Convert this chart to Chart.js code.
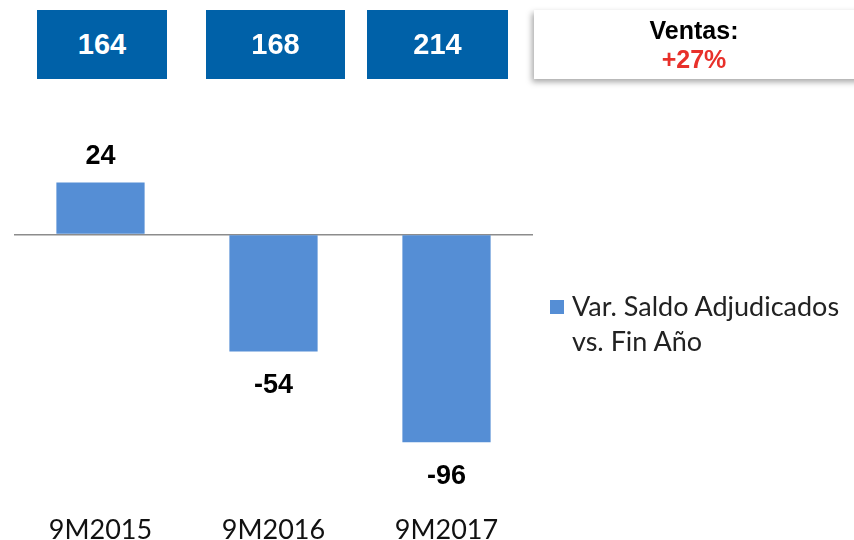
<!DOCTYPE html>
<html>
<head>
<meta charset="utf-8">
<script src="https://cdn.jsdelivr.net/npm/chart.js@4"></script>
<style>
  html, body { margin: 0; padding: 0; background: #fff; }
  #wrap { position: relative; width: 854px; height: 540px; overflow: hidden; font-family: "Liberation Sans", Arial, sans-serif; }
  canvas { position: absolute; left: 0; top: 0; }
  .box { position: absolute; top: 10px; height: 69px; background: #0061a8; color: #fff;
         font-weight: bold; font-size: 29px; display: flex; align-items: center; justify-content: center; }
  .ventas { position: absolute; left: 534px; top: 10px; width: 330px; height: 69px; background: #fff;
            box-shadow: -2px 3px 6px rgba(0,0,0,0.35); text-align: center; font-weight: bold; font-size: 25px; line-height: 29px; padding-top: 6px; padding-right: 10px; box-sizing: border-box; }
  .ventas .pct { color: #e8302a; }
  #legend { position: absolute; left: 550px; top: 288px; font-family: Lato, "Noto Sans", sans-serif; font-size: 27px; color: #222; line-height: 35px; }
  #legend .sw { display: inline-block; width: 14px; height: 14px; background: #558ed5; margin-right: 8px; vertical-align: 2px; }
  #legend .l2 { padding-left: 22px; }
</style>
</head>
<body>
<div id="wrap">
  <canvas id="chart" width="854" height="587"></canvas>
  <div id="boxes"></div>
  <div class="ventas"><div id="ventasLabel"></div><div class="pct" id="ventasPct"></div></div>
  <div id="legend"></div>
</div>
<script>
// datos
const categorias = ['9M2015', '9M2016', '9M2017'];
const variacion = [24, -54, -96];
const totales = [164, 168, 214];
const ventasTexto = 'Ventas:';
const ventasCrecimiento = '+27%';
const serieNombre = ['Var. Saldo Adjudicados', 'vs. Fin Año'];

// cajas superiores
const boxPos = [[37, 130], [206, 139], [367, 141]];
const boxesEl = document.getElementById('boxes');
totales.forEach(function(t, i) {
    const d = document.createElement('div');
    d.className = 'box';
    d.style.left = boxPos[i][0] + 'px';
    d.style.width = boxPos[i][1] + 'px';
    d.textContent = t;
    boxesEl.appendChild(d);
});
document.getElementById('ventasLabel').textContent = ventasTexto;
document.getElementById('ventasPct').textContent = ventasCrecimiento;

// leyenda
document.getElementById('legend').innerHTML =
    '<div><span class="sw"></span>' + serieNombre[0] + '</div><div class="l2">' + serieNombre[1] + '</div>';

// etiquetas de valor
const valueLabels = {
    id: 'valueLabels',
    afterDatasetsDraw(chart) {
        const ctx = chart.ctx;
        const meta = chart.getDatasetMeta(0);
        ctx.save();
        ctx.font = 'bold 27px "Liberation Sans", Arial, sans-serif';
        ctx.fillStyle = '#000';
        ctx.textAlign = 'center';
        ctx.textBaseline = 'middle';
        meta.data.forEach(function(bar, i) {
            const v = chart.data.datasets[0].data[i];
            const y = v >= 0 ? bar.y - 26 : bar.y + 34;
            ctx.fillText(v, bar.x, y);
        });
        ctx.restore();
    }
};

new Chart(document.getElementById('chart'), {
    type: 'bar',
    data: {
        labels: categorias,
        datasets: [{
            label: serieNombre.join(' '),
            data: variacion,
            backgroundColor: '#558ed5',
            borderWidth: 0,
            categoryPercentage: 1,
            barPercentage: 0.51
        }]
    },
    options: {
        responsive: false,
        animation: false,
        layout: { padding: { top: 148, left: 14, right: 321, bottom: 0 } },
        scales: {
            x: {
                grid: { display: false, drawTicks: false },
                border: { display: false },
                ticks: { color: '#111', padding: 41, font: { size: 27, family: 'Lato, "Noto Sans", sans-serif' } }
            },
            y: {
                min: -110,
                max: 40,
                ticks: { display: false, stepSize: 10 },
                border: { display: false },
                grid: {
                    drawTicks: false,
                    lineWidth: 1.5,
                    color: function(c) { return c.tick && c.tick.value === 0 ? '#8c8c8c' : 'rgba(0,0,0,0)'; }
                }
            }
        },
        plugins: {
            legend: { display: false },
            tooltip: { enabled: false }
        }
    },
    plugins: [valueLabels]
});
</script>
</body>
</html>
